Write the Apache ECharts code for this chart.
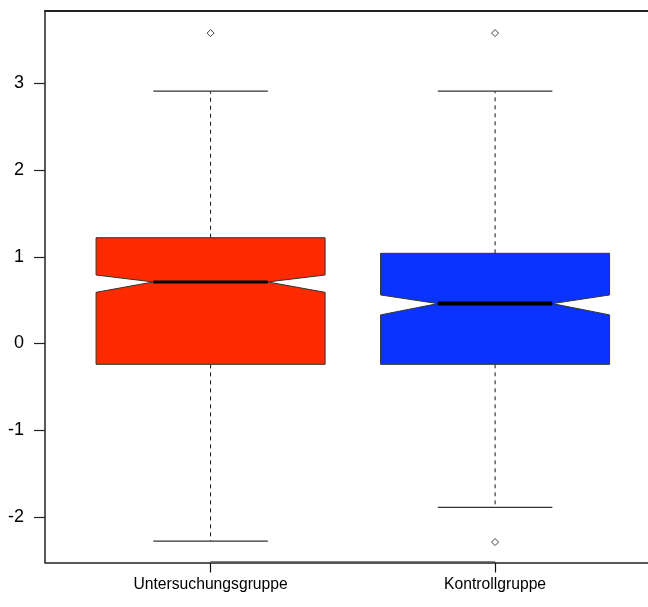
<!DOCTYPE html>
<html>
<head>
<meta charset="utf-8">
<script src="https://cdn.jsdelivr.net/npm/echarts@6/dist/echarts.min.js"></script>
<style>
html,body{margin:0;padding:0;background:#fff;}
#chart{width:648px;height:607px;}
</style>
</head>
<body>
<div id="chart"></div>
<script>
// ---- data ----
const categories = ['Untersuchungsgruppe', 'Kontrollgruppe'];
const whiskerLow  = [-2.28, -1.89];
const q1          = [-0.24, -0.24];
const notchLow    = [0.59, 0.33];
const median      = [0.71, 0.46];
const notchHigh   = [0.79, 0.56];
const q3          = [1.22, 1.04];
const whiskerHigh = [2.91, 2.91];
const outlierGroup = [0, 1, 1];
const outlierValue = [3.58, 3.58, -2.29];
const yTicks = [-2, -1, 0, 1, 2, 3];

// ---- styles ----
const boxColors = ['#ff2a00', '#0b33ff'];
const medianWidths = [3, 4];
const Y_MIN = -2.526, Y_MAX = 3.835;
const X_MIN = 0.418, X_MAX = 2.5375;
const BOX_W = 0.805;
const labelFont = '"Liberation Sans", Arial, Helvetica, sans-serif';

const boxData = categories.map((c, i) => [i + 1, whiskerLow[i], q1[i], notchLow[i], median[i], notchHigh[i], q3[i], whiskerHigh[i], i]);
const outlierData = outlierValue.map((v, k) => [outlierGroup[k] + 1, v]);

function renderBox(params, api) {
  const x = api.value(0);
  const idx = api.value(8);
  const P = v => api.coord([x, v]);
  const w = api.size([BOX_W, 0])[0];
  const cx = P(0)[0];
  const yWL = P(api.value(1))[1], yQ1 = P(api.value(2))[1], yNL = P(api.value(3))[1];
  const yMed = P(api.value(4))[1], yNH = P(api.value(5))[1], yQ3 = P(api.value(6))[1], yWH = P(api.value(7))[1];
  const l = cx - w / 2, r = cx + w / 2, li = cx - w / 4, ri = cx + w / 4;
  const dash = { stroke: '#111', lineWidth: 1, lineDash: [4, 4] };
  const cap = { stroke: '#333', lineWidth: 1.3 };
  return {
    type: 'group',
    children: [
      { type: 'line', shape: { x1: cx, y1: yQ3, x2: cx, y2: yWH }, style: dash },
      { type: 'line', shape: { x1: cx, y1: yQ1, x2: cx, y2: yWL }, style: dash },
      { type: 'line', shape: { x1: li, y1: yWH, x2: ri, y2: yWH }, style: cap },
      { type: 'line', shape: { x1: li, y1: yWL, x2: ri, y2: yWL }, style: cap },
      { type: 'polygon', shape: { points: [
          [l, yQ1], [l, yNL], [li, yMed], [l, yNH], [l, yQ3],
          [r, yQ3], [r, yNH], [ri, yMed], [r, yNL], [r, yQ1]
        ] }, style: { fill: boxColors[idx], stroke: '#333', lineWidth: 1 } },
      { type: 'line', shape: { x1: li, y1: yMed, x2: ri, y2: yMed }, style: { stroke: '#000', lineWidth: medianWidths[idx] } }
    ]
  };
}

const chart = echarts.init(document.getElementById('chart'), null, { renderer: 'canvas' });
chart.setOption({
  animation: false,
  backgroundColor: '#fff',
  grid: { left: 45, top: 11, right: 0, bottom: 44.5, show: false },
  xAxis: [{
    type: 'value', min: X_MIN, max: X_MAX, position: 'bottom',
    splitLine: { show: false },
    axisLine: { show: true, onZero: false, lineStyle: { color: '#222', width: 1.5 } },
    axisTick: { show: true, customValues: [1, 2], length: 10, lineStyle: { color: '#111', width: 1.2 } },
    axisLabel: {
      customValues: [1, 2], margin: 14,
      formatter: v => categories[Math.round(v) - 1] || '',
      fontFamily: labelFont, fontSize: 15.7, color: '#000'
    }
  }, {
    type: 'value', min: X_MIN, max: X_MAX, position: 'top',
    splitLine: { show: false },
    axisLine: { show: true, onZero: false, lineStyle: { color: '#222', width: 2 } },
    axisTick: { show: false }, axisLabel: { show: false }
  }],
  yAxis: {
    type: 'value', min: Y_MIN, max: Y_MAX,
    splitLine: { show: false },
    axisLine: { show: true, onZero: false, lineStyle: { color: '#222', width: 1.5 } },
    axisTick: { show: true, customValues: yTicks, length: 11, lineStyle: { color: '#222', width: 1.2 } },
    axisLabel: { customValues: yTicks, margin: 21, fontFamily: labelFont, fontSize: 18, color: '#000' }
  },
  series: [
    {
      type: 'line', silent: true, symbol: 'none', clip: false,
      data: [[1, Y_MIN], [2, Y_MIN]],
      lineStyle: { color: '#555', width: 2.6 }, z: 1
    },
    { type: 'custom', renderItem: renderBox, data: boxData, clip: false, z: 3 },
    {
      type: 'scatter', data: outlierData, symbol: 'diamond', symbolSize: [7, 7],
      itemStyle: { color: '#fff', borderColor: '#111', borderWidth: 1 }, z: 4
    }
  ]
});
</script>
</body>
</html>
